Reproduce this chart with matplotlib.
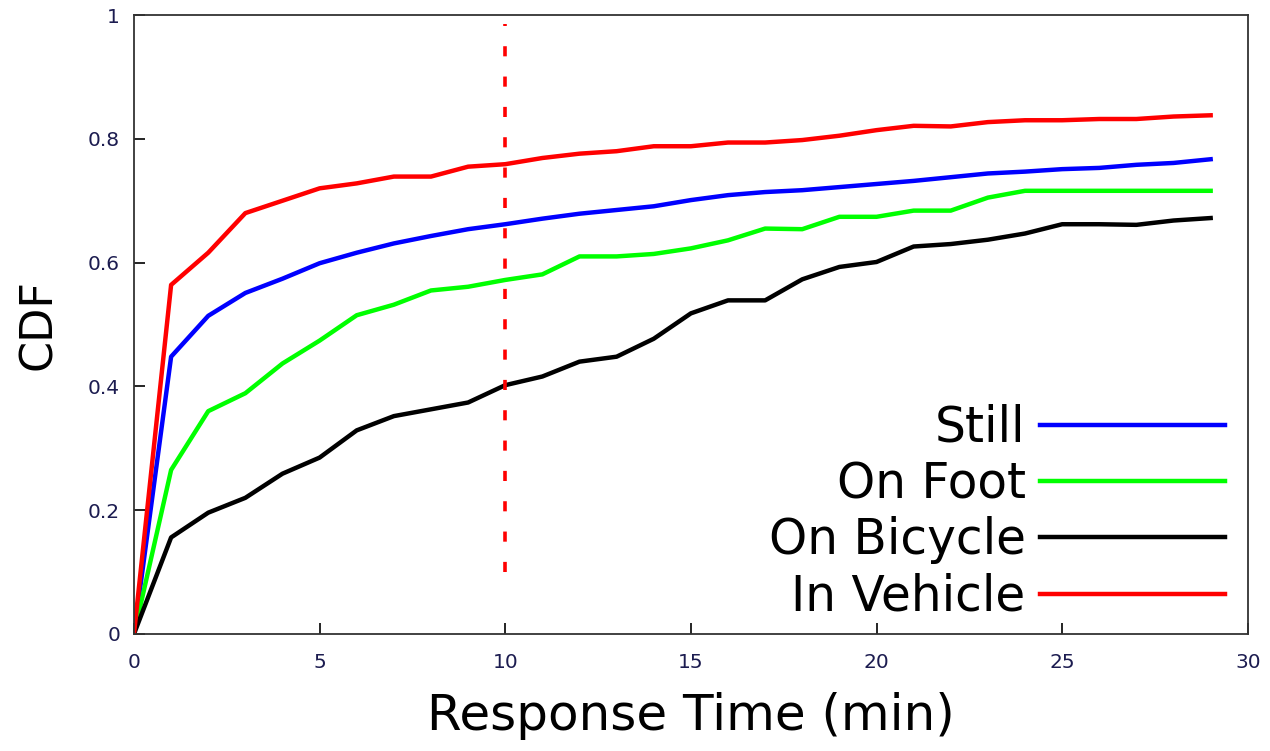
import matplotlib
matplotlib.use("Agg")
import matplotlib.pyplot as plt
import numpy as np

# Response time (min)
minutes = list(range(0, 30))

still = [0, 0.448, 0.514, 0.551, 0.574, 0.599, 0.616, 0.631, 0.643, 0.654,
         0.662, 0.671, 0.679, 0.685, 0.691, 0.701, 0.709, 0.714, 0.717, 0.722,
         0.727, 0.732, 0.738, 0.744, 0.747, 0.751, 0.753, 0.758, 0.761, 0.767]
on_foot = [0, 0.265, 0.360, 0.389, 0.437, 0.474, 0.515, 0.532, 0.555, 0.561,
           0.572, 0.581, 0.610, 0.610, 0.614, 0.623, 0.636, 0.655, 0.654, 0.674,
           0.674, 0.684, 0.684, 0.705, 0.716, 0.716, 0.716, 0.716, 0.716, 0.716]
on_bicycle = [0, 0.156, 0.196, 0.220, 0.259, 0.285, 0.329, 0.352, 0.363, 0.374,
              0.402, 0.416, 0.440, 0.448, 0.477, 0.518, 0.539, 0.539, 0.573, 0.593,
              0.601, 0.626, 0.630, 0.637, 0.647, 0.662, 0.662, 0.661, 0.668, 0.672]
in_vehicle = [0, 0.564, 0.616, 0.680, 0.700, 0.720, 0.728, 0.739, 0.739, 0.755,
              0.759, 0.769, 0.776, 0.780, 0.788, 0.788, 0.794, 0.794, 0.798, 0.805,
              0.814, 0.821, 0.820, 0.827, 0.830, 0.830, 0.832, 0.832, 0.836, 0.838]

labels = ["Still", "On Foot", "On Bicycle", "In Vehicle"]
colors = ["#0000ff", "#00ff00", "#000000", "#ff0000"]

fig = plt.figure(figsize=(12.7, 7.51), dpi=100)
ax = fig.add_axes([0.1055, 0.1558, 0.877, 0.8242])

for ys, lab, c in zip([still, on_foot, on_bicycle, in_vehicle], labels, colors):
    ax.plot(minutes, ys, color=c, lw=3.2, label=lab)

# threshold marker at 10 min
ax.plot([10, 10], [0.1, 0.985], color="#ff0000", lw=2.6, ls=(0, (2.8, 5.6)))

ax.set_xlim(0, 30)
ax.set_ylim(0, 1)
ax.set_xticks([0, 5, 10, 15, 20, 25, 30])
ax.set_yticks([0, 0.2, 0.4, 0.6, 0.8, 1])
ax.set_yticklabels(["0", "0.2", "0.4", "0.6", "0.8", "1"])
ax.tick_params(direction="in", length=8, width=1.2, labelsize=14.5,
               labelcolor="#1c1c50", top=False, right=False)
ax.tick_params(axis="y", pad=10)
ax.tick_params(axis="x", pad=14)
for s in ax.spines.values():
    s.set_linewidth(1.3)
    s.set_color("#333333")

ax.set_xlabel("Response Time (min)", fontsize=36, labelpad=14)
ax.set_ylabel("CDF", fontsize=32, labelpad=20)

leg = ax.legend(loc="lower right", fontsize=35, frameon=False, markerfirst=False,
                handlelength=3.8, handletextpad=0.3, labelspacing=0.17,
                borderaxespad=0.0, bbox_to_anchor=(0.997, -0.01))
for t in leg.get_texts():
    t.set_ha("right")

fig.savefig("out.png", dpi=100)
